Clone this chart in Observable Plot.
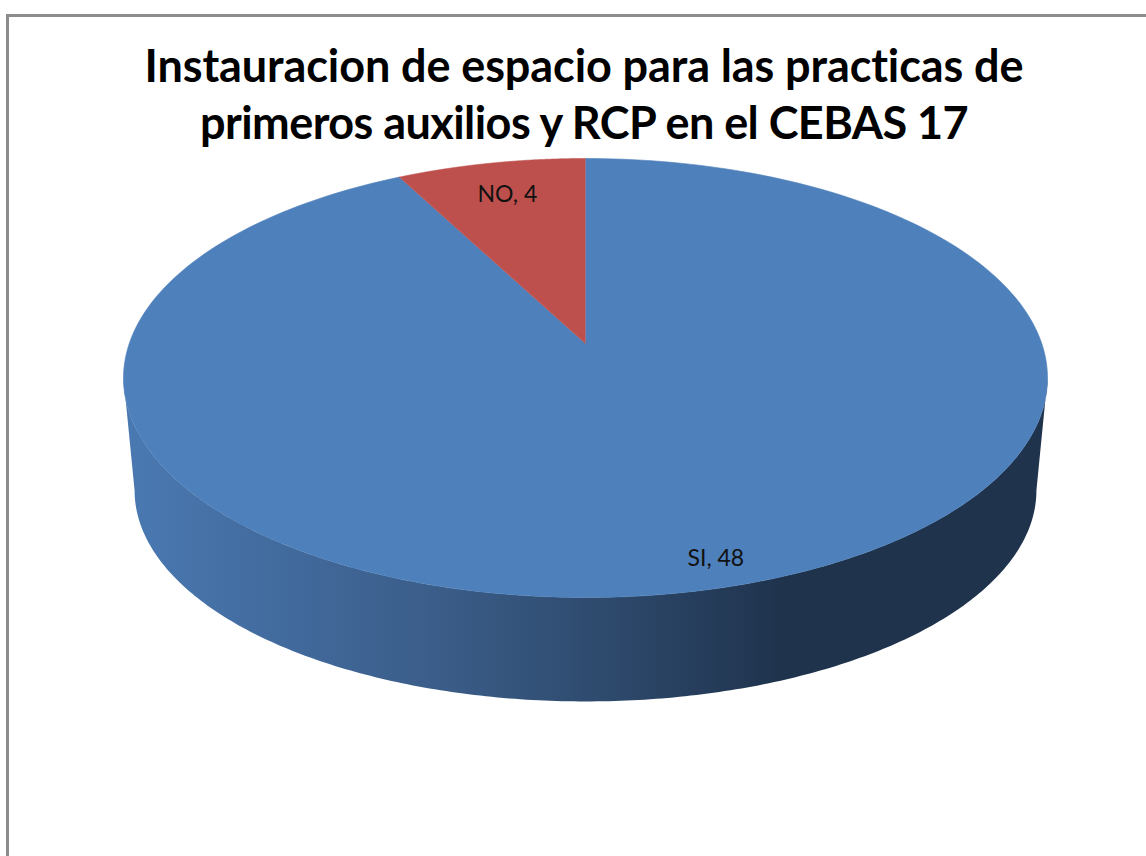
<!DOCTYPE html>
<html lang="es">
<head>
<meta charset="utf-8">
<script src="https://cdn.jsdelivr.net/npm/d3@7"></script>
<script src="https://cdn.jsdelivr.net/npm/@observablehq/plot@0.6"></script>
<style>
  html, body { margin: 0; padding: 0; background: #fff; }
  #page { position: relative; width: 1146px; height: 856px; overflow: hidden; font-family: Lato, sans-serif; }
  #frame { position: absolute; left: 6px; top: 14px; right: -10px; bottom: -10px; border-left: 3px solid #8c8c8c; border-top: 3px solid #8c8c8c; }
  #title { position: relative; height: 150px; box-sizing: border-box; padding-top: 37px; margin: 0; text-align: center; width: 1168px; color: #000;
           font: 700 45px/57px Lato, sans-serif; font-variant-ligatures: none; letter-spacing: -0.1px; }
  #title span { letter-spacing: -0.55px; }
  #chart svg { display: block; }
  #chart text { font-variant-ligatures: none; }
</style>
</head>
<body>
<div id="page">
  <div id="frame"></div>
  <h1 id="title">Instauracion de espacio para las practicas de<br><span>primeros auxilios y RCP en el CEBAS 17</span></h1>
  <div id="chart"></div>
</div>
<script>
const categories = ["SI", "NO"];
const values = [48, 4];
const colors = ["#4e80bb", "#bd504d"];
const wallStops = [[0, "#4a79b2"], [0.19, "#41699b"], [0.35, "#3a5c87"], [0.52, "#2e4a6d"], [0.71, "#1f334d"], [1, "#1f334d"]];

// perspective of the tilted disc: unit circle -> ellipse of half-extent 1
const k = 0.157;
const project = (r, a) => {
  const u = r * Math.sin(a), v = r * Math.cos(a), w = 1 + k * v;
  return { x: Math.sqrt(1 - k * k) * u / w, y: (v + k) / w };
};

const arcs = d3.pie().sort(null)(values);
const steps = 240;
const face = arcs.flatMap((arc, i) => {
  const pts = [{ cat: categories[i], ...project(0, 0) }];
  for (let s = 0; s <= steps; s++) {
    pts.push({ cat: categories[i], ...project(1, arc.startAngle + (arc.endAngle - arc.startAngle) * s / steps) });
  }
  return pts;
});

// side wall: lower half of the rim, then the lower half of the base rim
const baseScaleX = 0.976, baseScaleY = 0.961, baseShift = -0.5125;
const wall = [];
for (let s = 0; s <= steps; s++) {
  const t = Math.PI * s / steps;
  wall.push({ x: -Math.cos(t), y: -Math.sin(t) });
}
for (let s = steps; s >= 0; s--) {
  const t = Math.PI * s / steps;
  wall.push({ x: -Math.cos(t) * baseScaleX, y: -Math.sin(t) * baseScaleY + baseShift });
}

const labels = arcs.map((arc, i) => {
  const p = project(0.82, (arc.startAngle + arc.endAngle) / 2);
  return { ...p, text: `${categories[i]}, ${values[i]}`, cat: categories[i] };
});

const defs = () => {
  const d = d3.create("svg:defs");
  const g = d.append("linearGradient").attr("id", "wallGradient").attr("x1", 0).attr("x2", 1).attr("y1", 0).attr("y2", 0);
  wallStops.forEach(([o, c]) => g.append("stop").attr("offset", o).attr("stop-color", c));
  return d.node();
};

const labelMark = (cat, dx, dy) => Plot.text(labels.filter(d => d.cat === cat), {
  x: "x", y: "y", text: "text", dx, dy,
  fill: "#111", fontSize: 23, fontFamily: "Lato, sans-serif"
});

const plot = Plot.plot({
  width: 1146,
  height: 706,
  margin: 0,
  style: { background: "transparent", overflow: "visible" },
  x: { domain: [-1, 1], range: [123, 1047], axis: null },
  y: { domain: [1, -1], range: [8, 447], axis: null },
  color: { domain: categories, range: colors },
  marks: [
    defs,
    Plot.line(wall, { x: "x", y: "y", fill: "url(#wallGradient)", stroke: "none" }),
    Plot.line(face, { x: "x", y: "y", z: "cat", fill: "cat", stroke: "cat", strokeWidth: 0.6 }),
    labelMark("NO", 1.5, 2.5),
    labelMark("SI", 28, 20)
  ]
});
document.getElementById("chart").append(plot);
</script>
</body>
</html>
